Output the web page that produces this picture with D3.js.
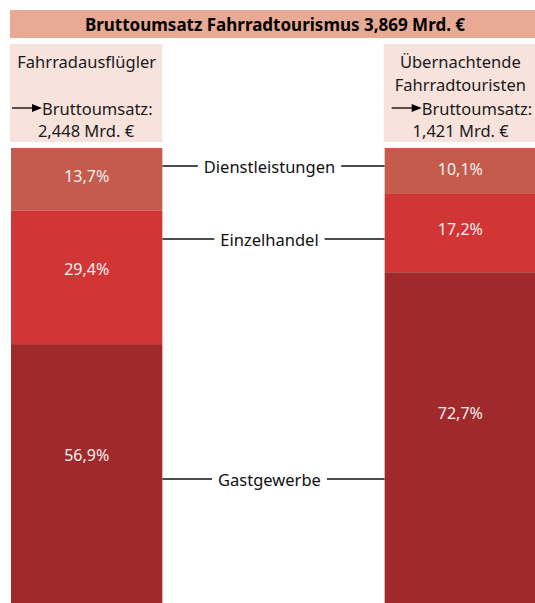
<!DOCTYPE html>
<html>
<head>
<meta charset="utf-8">
<script src="https://cdn.jsdelivr.net/npm/d3@7"></script>
<style>
  body { margin: 0; background: #fff; }
  svg { display: block; font-family: "Noto Sans", sans-serif; }
</style>
</head>
<body>
<svg id="chart" width="535" height="603"></svg>
<script>
// data
var titel = "Bruttoumsatz Fahrradtourismus 3,869 Mrd. €";
var gruppen = ["Fahrradausflügler", "Übernachtende Fahrradtouristen"];
var kopLinks = ["Fahrradausflügler"];
var kopRechts = ["Übernachtende", "Fahrradtouristen"];
var kopZeilen = [kopLinks, kopRechts];
var umsatz = ["2,448 Mrd. €", "1,421 Mrd. €"];
var kategorien = ["Dienstleistungen", "Einzelhandel", "Gastgewerbe"];
var anteileAusfluegler = [13.7, 29.4, 56.9];
var anteileUebernachter = [10.1, 17.2, 72.7];

var kleuren = ["#c45b4c", "#d13536", "#a0292c"];
var labelY = [166, 239, 479]; // positie van de verbindingslijnen

var svg = d3.select("#chart");

var xScale = d3.scaleBand()
  .domain(gruppen)
  .range([11, 536])
  .paddingInner(0.595)
  .paddingOuter(0);

var yScale = d3.scaleLinear()
  .domain([0, 100])
  .range([148, 603]);

var kleurScale = d3.scaleOrdinal().domain(kategorien).range(kleuren);

// titelbalk
svg.append("rect")
  .attr("x", 10).attr("y", 10).attr("width", 525).attr("height", 28)
  .attr("fill", "#e8aa95");
svg.append("text")
  .attr("x", 275).attr("y", 24)
  .attr("text-anchor", "middle").attr("dominant-baseline", "central")
  .attr("font-weight", "bold").attr("font-size", 17)
  .text(titel);

// koppen
var kop = svg.selectAll("g.kop")
  .data(gruppen)
  .enter()
  .append("g")
  .attr("class", "kop")
  .attr("transform", function(d){ return "translate(" + xScale(d) + ",0)"; });

kop.append("rect")
  .attr("x", -1).attr("y", 44)
  .attr("width", xScale.bandwidth() + 1).attr("height", 98)
  .attr("fill", "#f8e2dc");

kop.each(function(d, i){
  var g = d3.select(this);
  var midden = xScale.bandwidth() / 2;
  kopZeilen[i].forEach(function(regel, j){
    g.append("text")
      .attr("x", midden).attr("y", 61 + j * 23)
      .attr("text-anchor", "middle").attr("dominant-baseline", "central")
      .attr("font-size", 16.5).attr("fill", "#1a1a1a")
      .text(regel);
  });
  // pijl
  var px = i == 0 ? 1 : 7;
  g.append("line")
    .attr("x1", px).attr("x2", px + 22)
    .attr("y1", 108).attr("y2", 108)
    .attr("stroke", "#000").attr("stroke-width", 1.3);
  g.append("path")
    .attr("d", "M" + (px + 20) + ",104 L" + (px + 30) + ",108 L" + (px + 20) + ",112 Z")
    .attr("fill", "#000");
  g.append("text")
    .attr("x", px + 30).attr("y", 108)
    .attr("dominant-baseline", "central")
    .attr("font-size", 16.5).attr("fill", "#1a1a1a")
    .text("Bruttoumsatz:");
  g.append("text")
    .attr("x", i == 0 ? 75 : 76).attr("y", 130)
    .attr("text-anchor", "middle").attr("dominant-baseline", "central")
    .attr("font-size", 16.5).attr("fill", "#1a1a1a")
    .text(umsatz[i]);
});

// gestapelde balken
function maakSegmenten(anteilen){
  var som = 0;
  return anteilen.map(function(v, i){
    var s = { kat: kategorien[i], waarde: v, van: som, tot: som + v };
    som += v;
    return s;
  });
}

var reeksen = [];
reeksen.push(maakSegmenten(anteileAusfluegler));
reeksen.push(maakSegmenten(anteileUebernachter));

var balk = svg.selectAll("g.balk")
  .data(gruppen)
  .enter()
  .append("g")
  .attr("class", "balk")
  .attr("transform", function(d){ return "translate(" + xScale(d) + ",0)"; });

balk.selectAll("rect")
  .data(function(d, i){ return reeksen[i]; })
  .enter()
  .append("rect")
  .attr("x", 0)
  .attr("width", xScale.bandwidth())
  .attr("y", function(d){ return yScale(d.van); })
  .attr("height", function(d){ return yScale(d.tot) - yScale(d.van); })
  .attr("fill", function(d){ return kleurScale(d.kat); });

balk.selectAll("text")
  .data(function(d, i){ return reeksen[i]; })
  .enter()
  .append("text")
  .attr("x", xScale.bandwidth() / 2)
  .attr("y", function(d){ return yScale(d.van + d.waarde * 0.42) + 2; })
  .attr("text-anchor", "middle").attr("dominant-baseline", "central")
  .attr("font-size", 16).attr("fill", "#fbefef")
  .text(function(d){ return d3.format(".1f")(d.waarde).replace(".", ",") + "%"; });

// verbindingslijnen met categorienamen
var links = xScale(gruppen[0]) + xScale.bandwidth();
var rechts = xScale(gruppen[1]);
var midden = (links + rechts) / 2 - 4;

kategorien.forEach(function(kat, i){
  var t = svg.append("text")
    .attr("x", midden).attr("y", labelY[i])
    .attr("text-anchor", "middle").attr("dominant-baseline", "central")
    .attr("font-size", 16.5).attr("fill", "#111")
    .text(kat);
  var breedte = t.node().getComputedTextLength();
  svg.insert("line", "text")
    .attr("x1", links).attr("x2", midden - breedte / 2 - 6)
    .attr("y1", labelY[i]).attr("y2", labelY[i])
    .attr("stroke", "#111").attr("stroke-width", 1.6);
  svg.insert("line", "text")
    .attr("x1", midden + breedte / 2 + 6).attr("x2", rechts)
    .attr("y1", labelY[i]).attr("y2", labelY[i])
    .attr("stroke", "#111").attr("stroke-width", 1.6);
});
</script>
</body>
</html>
